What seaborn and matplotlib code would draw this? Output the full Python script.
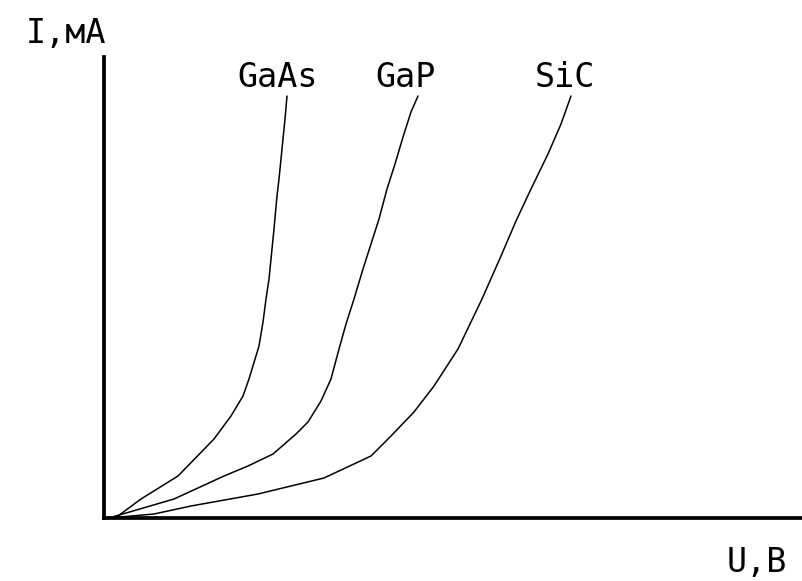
import matplotlib
matplotlib.use("Agg")
import matplotlib.pyplot as plt
import seaborn as sns
import pandas as pd

# Data (arbitrary units: U along x, I along y)
gaas_u = [5, 14, 37, 74, 110, 127, 139, 145, 155, 159, 162, 165, 170, 173, 175, 179, 181, 183]
gaas_i = [0, 2, 19, 42, 79, 102, 122, 139, 172, 196, 219, 239, 289, 322, 339, 379, 399, 422]
gap_u = [5, 70, 120, 144, 169, 192, 204, 217, 227, 235, 242, 250, 259, 267, 275, 283, 291, 299, 307, 314]
gap_i = [0, 19, 42, 52, 64, 84, 96, 117, 139, 169, 194, 219, 249, 274, 299, 329, 354, 381, 406, 422]
sic_u = [5, 50, 87, 154, 220, 267, 287, 310, 330, 354, 378, 397, 412, 427, 444, 457, 467]
sic_i = [0, 4, 12, 24, 40, 62, 82, 106, 132, 169, 219, 262, 297, 329, 364, 394, 422]
materials = ["GaAs", "GaP", "SiC"]
x_label = "U,В"
y_label = "I,мА"

df = pd.concat([
    pd.DataFrame({"U": gaas_u, "I": gaas_i, "m": "GaAs"}),
    pd.DataFrame({"U": gap_u, "I": gap_i, "m": "GaP"}),
    pd.DataFrame({"U": sic_u, "I": sic_i, "m": "SiC"}),
], ignore_index=True)

sns.set_style("white")
plt.rcParams["font.family"] = ["DejaVu Sans Mono", "DejaVu Sans"]

W, H = 803, 581
fig = plt.figure(figsize=(W / 100, H / 100), dpi=100)
ax = fig.add_axes([104 / W, (H - 518) / H, (W - 104) / W, (518 - 57) / H])

sns.lineplot(data=df, x="U", y="I", hue="m", units="m", estimator=None, sort=False,
             palette=["black"] * 3, legend=False, linewidth=1.1, ax=ax)

ax.set_xlim(0, 699)
ax.set_ylim(0, 461)
ax.set_xticks([])
ax.set_yticks([])
ax.set_xlabel("")
ax.set_ylabel("")
for s in ["top", "right"]:
    ax.spines[s].set_visible(False)
for s in ["left", "bottom"]:
    ax.spines[s].set_linewidth(2.7)
    ax.spines[s].set_color("black")

def ftext(x, y, s):
    fig.text(x / W, 1 - y / H, s, ha="center", va="baseline", fontsize=24, color="black")

ftext(66, 43, y_label)
ftext(757, 572, x_label)
for name, cx in zip(materials, [278, 406, 565]):
    ftext(cx, 87, name)

fig.savefig("out.png", dpi=100, facecolor="white")
